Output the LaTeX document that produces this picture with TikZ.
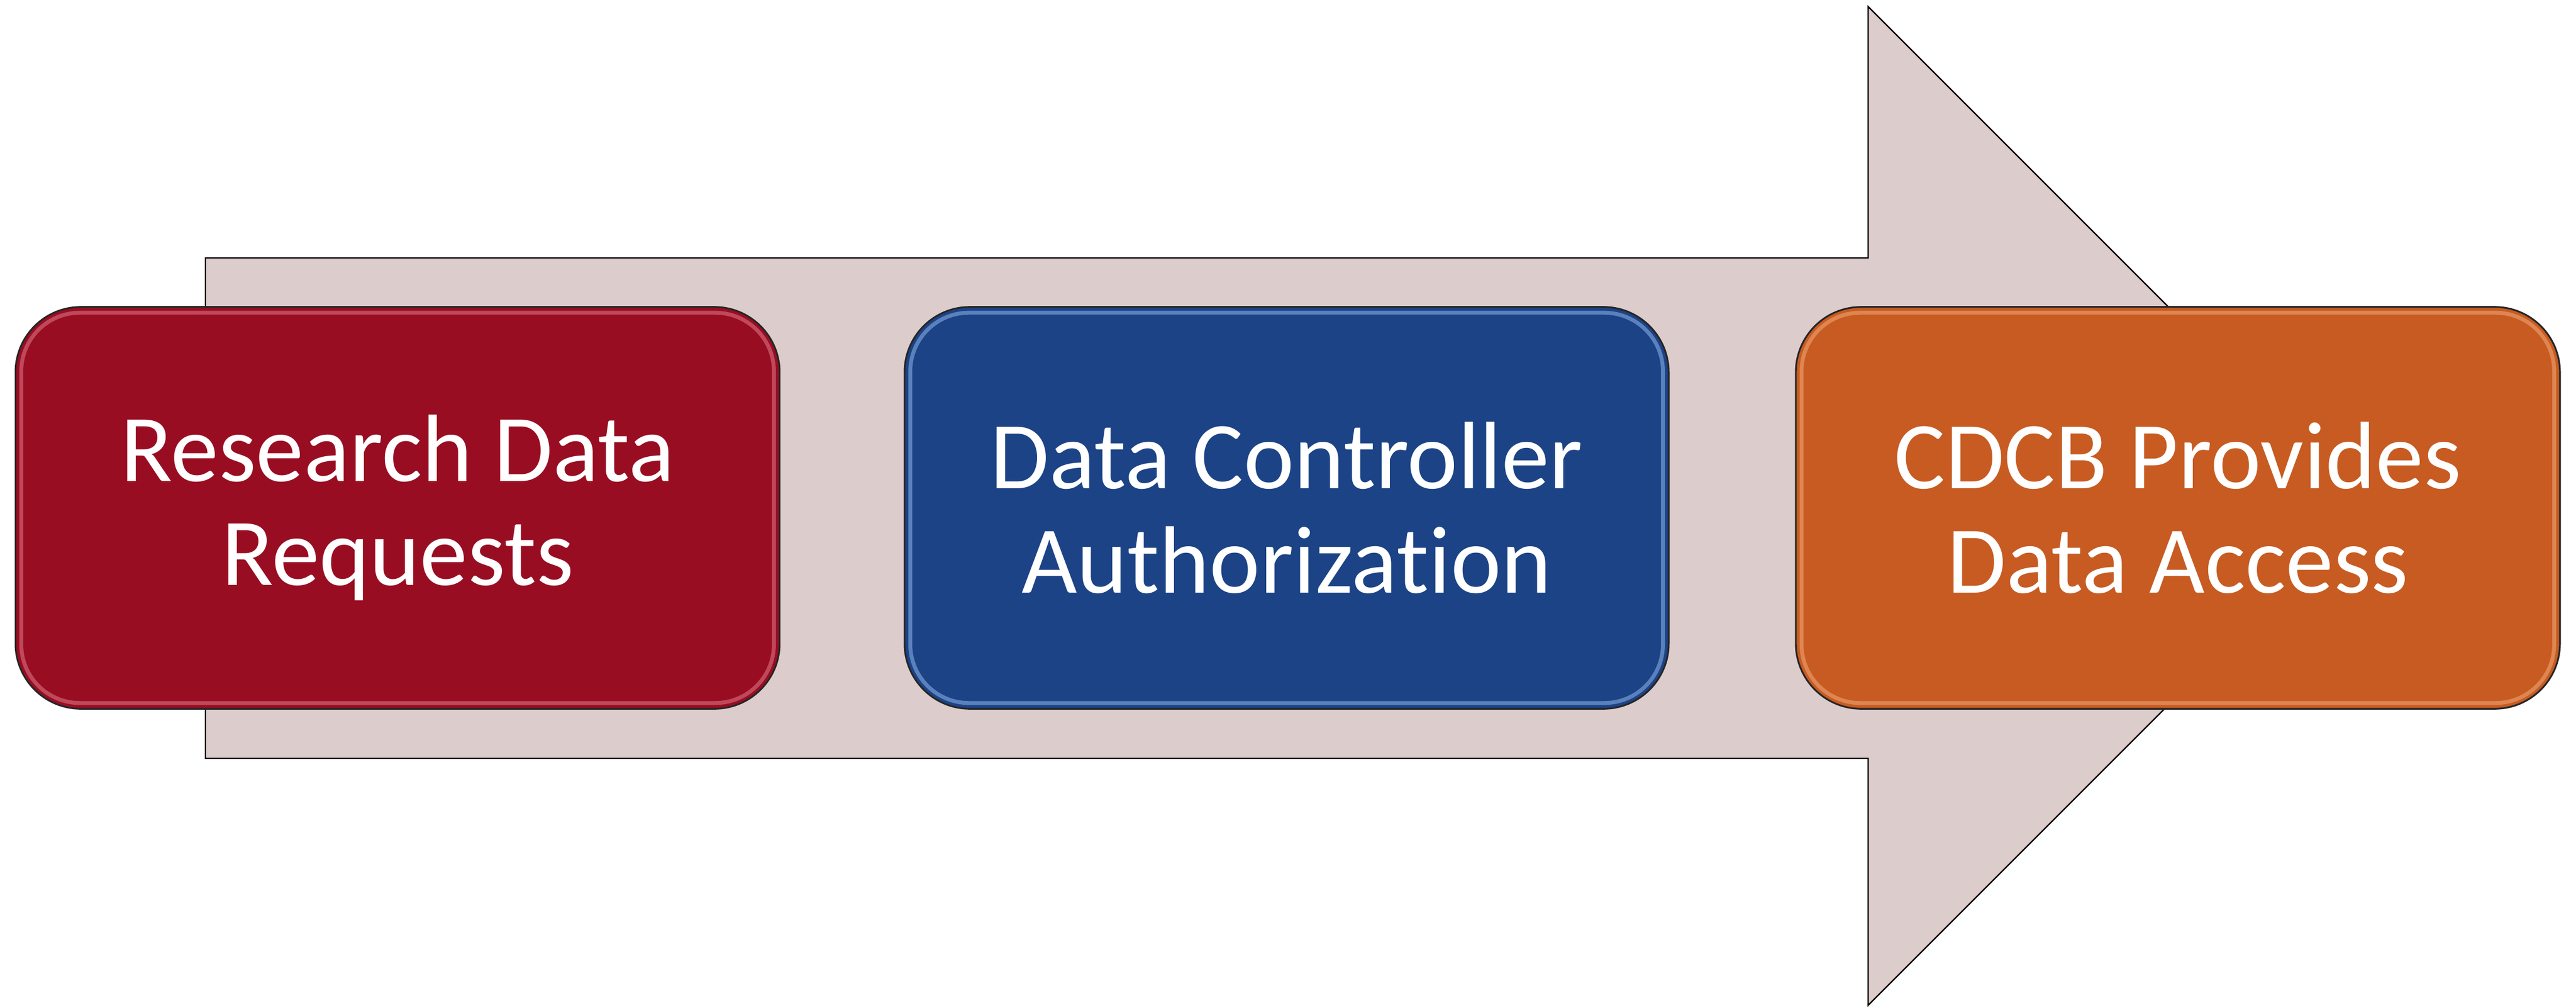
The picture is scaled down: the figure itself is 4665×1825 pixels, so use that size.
\documentclass[tikz,border=0pt]{standalone}
\usepackage{fontspec}
\setmainfont{Carlito}[Ligatures=NoCommon]
\definecolor{arrowfill}{HTML}{DDCCCC}
\definecolor{redbox}{HTML}{990D22}
\definecolor{bluebox}{HTML}{1B4386}
\definecolor{orangebox}{HTML}{C75B22}
\definecolor{redhi}{HTML}{E07A88}
\definecolor{bluehi}{HTML}{8FB4EA}
\definecolor{orangehi}{HTML}{F2A878}
\tikzset{
  stepbox/.style={rectangle, rounded corners=1.18cm, draw=black!85, line width=0.9pt,
    minimum width=13.83cm, minimum height=7.27cm, inner sep=0pt,
    text=white, align=center,
    font=\fontsize{49.3pt}{53.6pt}\selectfont},
  hiline/.style={rounded corners=1.06cm, line width=2pt, opacity=0.55}
}
\begin{document}
\begin{tikzpicture}[x=0.01cm,y=-0.01cm]
\useasboundingbox (0,0) rectangle (4665,1825);
% big arrow
\draw[fill=arrowfill, draw=black, line width=0.7pt]
  (372,467) -- (3383,467) -- (3383,12) -- (4287,916) -- (3383,1820)
  -- (3383,1373) -- (372,1373) -- cycle;
% boxes
\node[stepbox, fill=redbox] (b1) at (720,919.5) {Research Data\\Requests};
\node[stepbox, fill=bluebox] (b2) at (2330,919.5) {Data Controller\\Authorization};
\node[stepbox, fill=orangebox] (b3) at (3944,919.5) {CDCB Provides\\Data Access};
% bevel highlights
\foreach \b/\c in {b1/redhi,b2/bluehi,b3/orangehi}{
  \draw[hiline, draw=\c]
    ([shift={(12,12)}]\b.north west) rectangle ([shift={(-12,-12)}]\b.south east);
}
\end{tikzpicture}
\end{document}
